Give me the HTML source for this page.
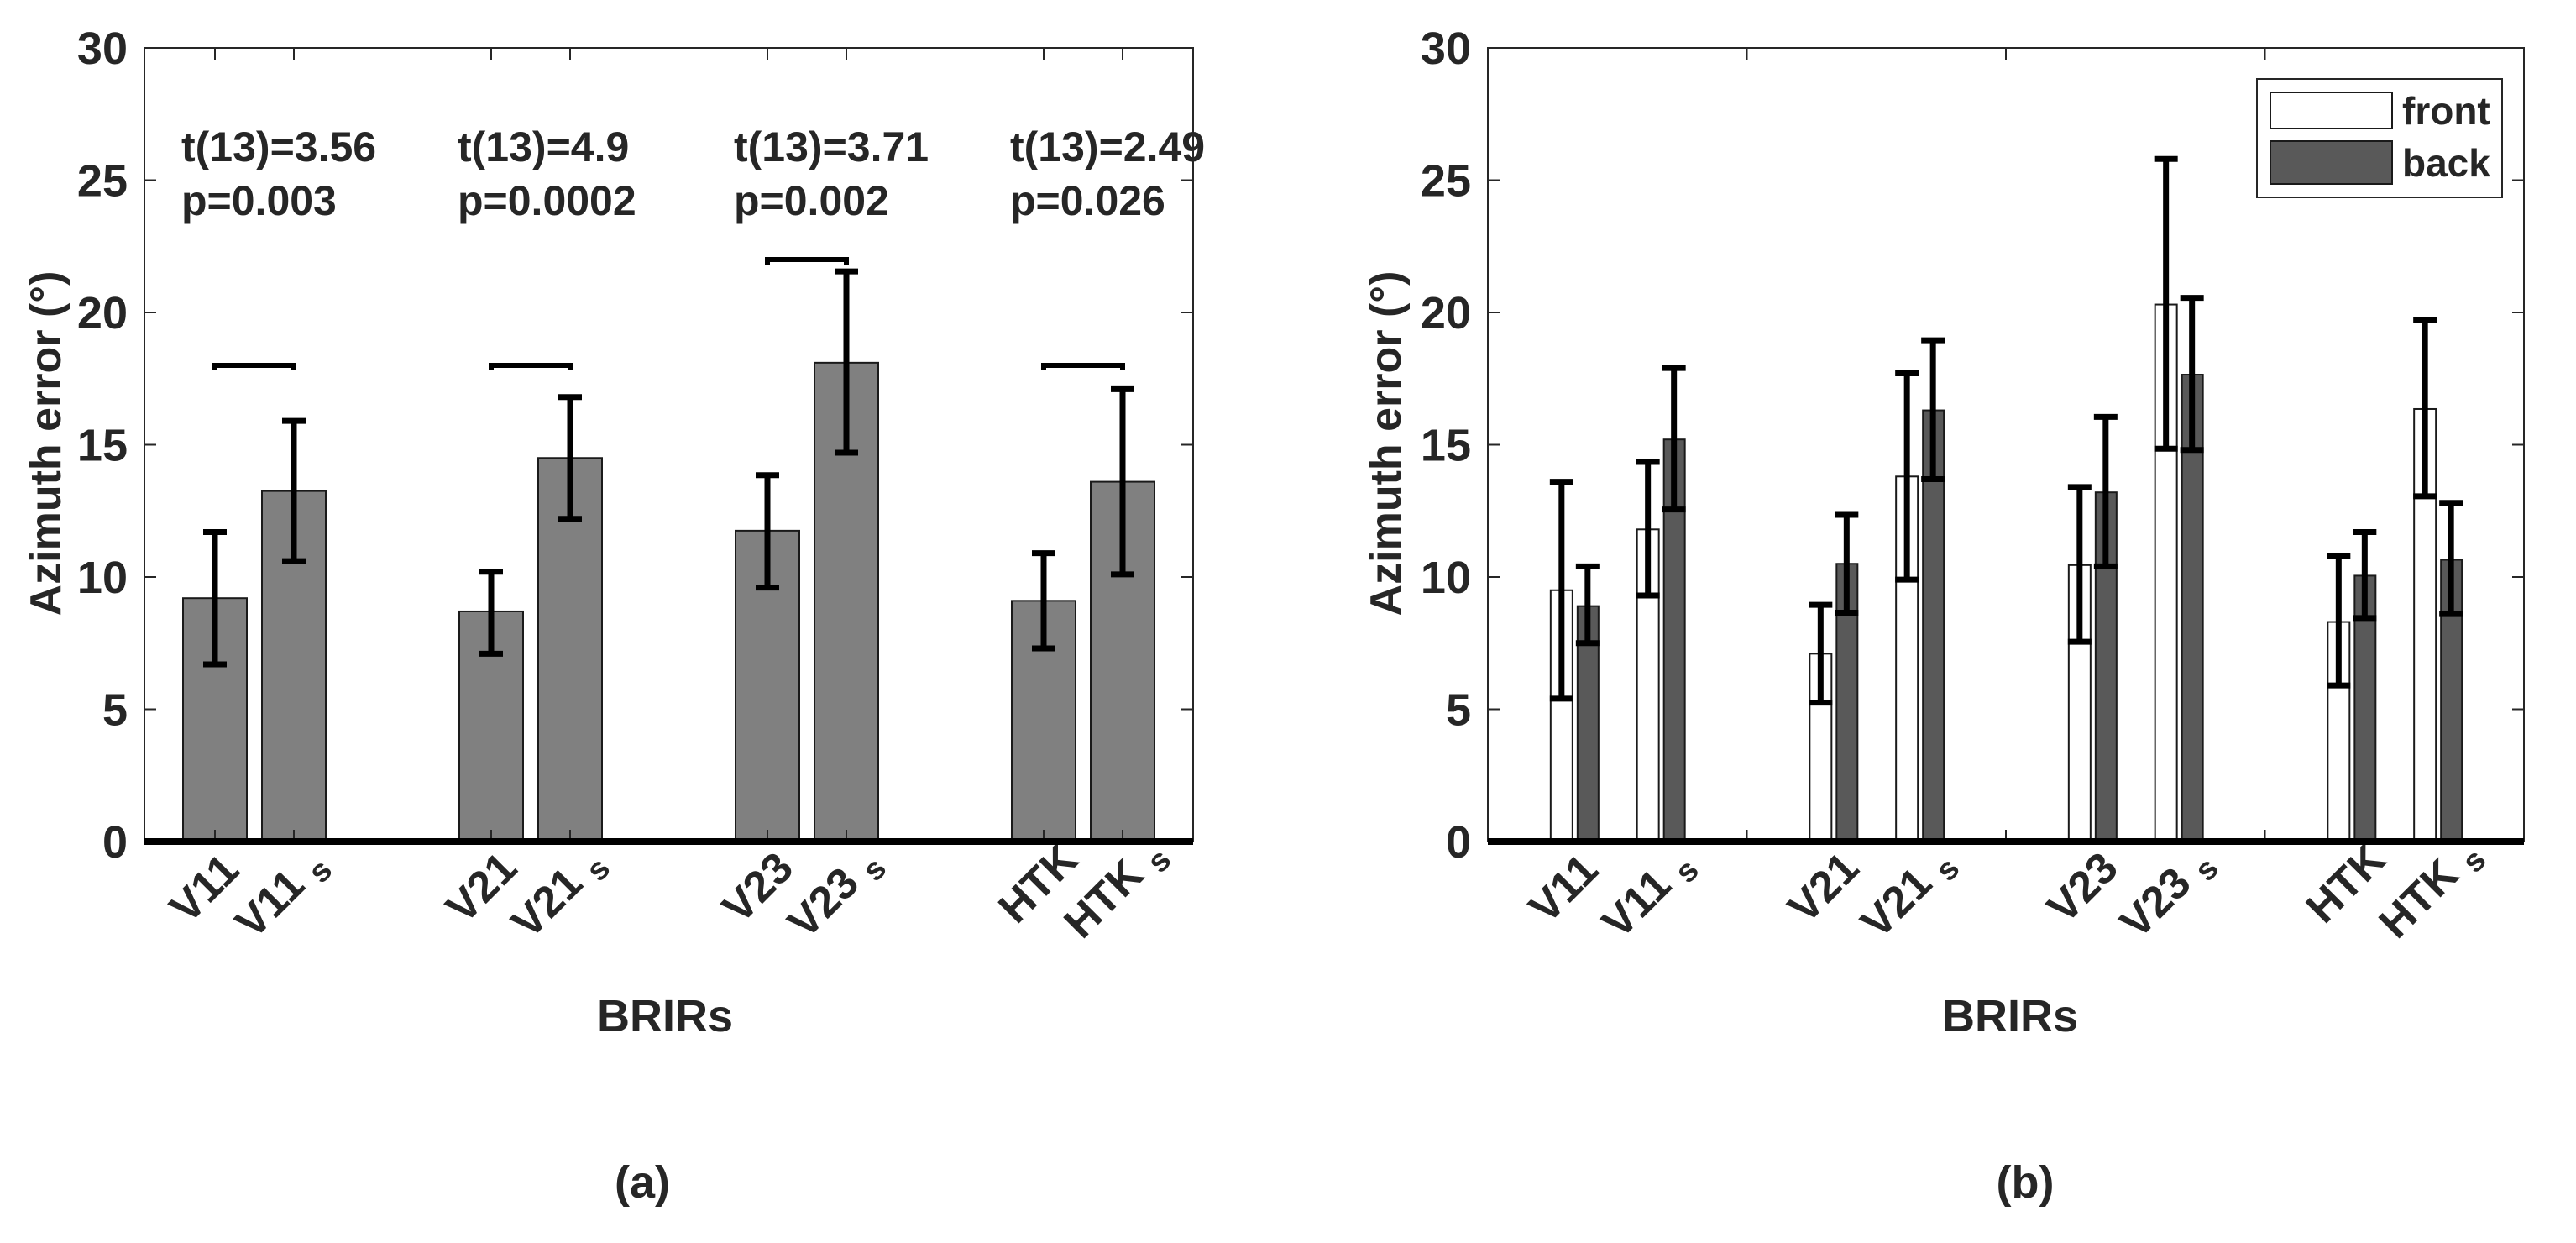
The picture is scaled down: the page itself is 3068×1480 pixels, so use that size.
<!DOCTYPE html>
<html><head><meta charset="utf-8">
<style>
html,body{margin:0;padding:0;background:#fff;}
svg{display:block;font-family:"Liberation Sans",sans-serif;font-weight:bold;}
text{fill:#262626;}
</style></head>
<body>
<svg id="fig" width="3068" height="1480" viewBox="0 0 3068 1480" xmlns="http://www.w3.org/2000/svg">
<g id="pa"></g>
<g id="pb"></g>
<text x="765" y="1426" font-size="54" text-anchor="middle">(a)</text>
<text x="2412" y="1426" font-size="54" text-anchor="middle">(b)</text>
</svg>
<script>
const yTicks = [0,5,10,15,20,25,30];
const catsA = ["V11","V11s","V21","V21s","V23","V23s","HTK","HTKs"];
const posA = [1,2,4.5,5.5,8,9,11.5,12.5];
const meanA = [9.2,13.25,8.7,14.5,11.75,18.1,9.1,13.6];
const loA = [6.7,10.6,7.1,12.2,9.6,14.7,7.3,10.1];
const hiA = [11.7,15.9,10.2,16.8,13.85,21.55,10.9,17.1];
const bracketY = [18,18,22,18];
const statT = ["t(13)=3.56","t(13)=4.9","t(13)=3.71","t(13)=2.49"];
const statP = ["p=0.003","p=0.0002","p=0.002","p=0.026"];

const catsB = ["V11","V11s","V21","V21s","V23","V23s","HTK","HTKs"];
const posB = [1,2,4,5,7,8,10,11];
const frontMean = [9.5,11.8,7.1,13.8,10.45,20.3,8.3,16.35];
const frontLo = [5.4,9.3,5.25,9.9,7.55,14.85,5.9,13.05];
const frontHi = [13.6,14.35,8.95,17.7,13.4,25.8,10.8,19.7];
const backMean = [8.9,15.2,10.5,16.3,13.2,17.65,10.05,10.65];
const backLo = [7.5,12.55,8.65,13.7,10.4,14.8,8.45,8.6];
const backHi = [10.4,17.9,12.35,18.95,16.05,20.55,11.7,12.8];

const NS="http://www.w3.org/2000/svg";
function mk(parent,tag,attrs){const e=document.createElementNS(NS,tag);for(const k in attrs)e.setAttribute(k,attrs[k]);parent.appendChild(e);return e;}
const Y0=1002, Y30=57;
function ys(v){return Y0+(Y30-Y0)*v/30;}

function axesFrame(g,L,R,xt,xsc,name){
  const box=mk(g,'rect',{x:L,y:Y30,width:R-L,height:Y0-Y30,fill:'none',stroke:'#262626','stroke-width':2});
  
  
  yTicks.forEach(v=>{
    const y=ys(v);
    mk(g,'line',{x1:L,x2:L+14,y1:y,y2:y,stroke:'#262626','stroke-width':2});
    mk(g,'line',{x1:R,x2:R-14,y1:y,y2:y,stroke:'#262626','stroke-width':2});
    const t=mk(g,'text',{x:L-20,y:y+19,'font-size':54,'text-anchor':'end'});
    t.textContent=v;
    
    
  });
  xt.forEach(p=>{
    const x=xsc(p);
    mk(g,'line',{x1:x,x2:x,y1:Y30,y2:Y30+14,stroke:'#262626','stroke-width':2});
  });
}
function zeroLine(g,L,R,name){
  const z=mk(g,'line',{x1:L,x2:R,y1:Y0,y2:Y0,stroke:'#000','stroke-width':8});
  
  
}
function bottomTicks(g,xt,xsc){
  xt.forEach(p=>{const x=xsc(p);mk(g,'line',{x1:x,x2:x,y1:Y0,y2:Y0-14,stroke:'#262626','stroke-width':2});});
}
function errBar(g,x,lo,hi,cap){
  const e=mk(g,'g',{stroke:'#000','stroke-width':7});
  
  
  mk(e,'line',{x1:x,x2:x,y1:ys(lo),y2:ys(hi)});
  mk(e,'line',{x1:x-cap,x2:x+cap,y1:ys(lo),y2:ys(lo)});
  mk(e,'line',{x1:x-cap,x2:x+cap,y1:ys(hi),y2:ys(hi)});
}
function xLabel(g,cat,x){
  const sub=cat.endsWith('s');
  const base=sub?cat.slice(0,-1):cat;
  const ax=sub?x-48:x-32, ay=sub?1120:1102;
  const t=mk(g,'text',{x:ax,y:ay,'font-size':52,transform:`rotate(-45 ${ax} ${ay})`});
  
  
  t.appendChild(document.createTextNode(base+(sub?' ':'')));
  if(sub){const s=mk(t,'tspan',{'font-size':38,dy:10});s.textContent='s';}
}
function axisTitles(g,cx,ylx,name){
  const xl=mk(g,'text',{x:cx,y:1228,'font-size':54,'text-anchor':'middle'});
  xl.textContent='BRIRs';
  
  
  const yl=mk(g,'text',{x:ylx,y:528,'font-size':52,'text-anchor':'middle',transform:`rotate(-90 ${ylx} 528)`});
  yl.textContent='Azimuth error (°)';
  
  
}

// Panel A
(function(){
  const g=document.getElementById('pa');
  const L=172,R=1421;
  const xs=p=>162+p*94;
  axesFrame(g,L,R,posA,xs,'panel-a');
  posA.forEach((p,i)=>{
    const x=xs(p);
    const b=mk(g,'rect',{x:x-38,y:ys(meanA[i]),width:76,height:Y0-ys(meanA[i]),fill:'#808080',stroke:'#1a1a1a','stroke-width':2});
    
    
    errBar(g,x,loA[i],hiA[i],14);
    xLabel(g,catsA[i],x);
  });
  bottomTicks(g,posA,xs);
  zeroLine(g,L,R,'panel-a');
  bracketY.forEach((v,k)=>{
    const x1=xs(posA[2*k]),x2=xs(posA[2*k+1]);
    const br=mk(g,'path',{d:`M${x1} ${ys(v)+6} L${x1} ${ys(v)} L${x2} ${ys(v)} L${x2} ${ys(v)+6}`,fill:'none',stroke:'#000','stroke-width':6});
    
    
    const tx=xs(posA[2*k])-40;
    const t1=mk(g,'text',{x:tx,y:192,'font-size':50});
    t1.textContent=statT[k];
    
    
    const t2=mk(g,'text',{x:tx,y:256,'font-size':50});
    t2.textContent=statP[k];
    
    
  });
  axisTitles(g,792,72,'panel-a');
})();

// Panel B
(function(){
  const g=document.getElementById('pb');
  const L=1772,R=3006;
  const xs=p=>L+p*(R-L)/12;
  axesFrame(g,L,R,[3,6,9],xs,'panel-b');
  posB.forEach((p,i)=>{
    const c=xs(p), xf=c-15, xb=c+16;
    const f=mk(g,'rect',{x:xf-13,y:ys(frontMean[i]),width:26,height:Y0-ys(frontMean[i]),fill:'#fff',stroke:'#1a1a1a','stroke-width':2});
    
    
    const b=mk(g,'rect',{x:xb-12,y:ys(backMean[i]),width:25,height:Y0-ys(backMean[i]),fill:'#595959',stroke:'#1a1a1a','stroke-width':2});
    
    
    errBar(g,xf,frontLo[i],frontHi[i],14);
    errBar(g,xb,backLo[i],backHi[i],14);
    xLabel(g,catsB[i],c);
  });
  bottomTicks(g,[3,6,9],xs);
  zeroLine(g,L,R,'panel-b');
  const lg=mk(g,'g',{});
  
  
  mk(lg,'rect',{x:2688,y:94,width:292,height:141,fill:'#fff',stroke:'#262626','stroke-width':2});
  const e1=mk(lg,'g',{});
  
  
  mk(e1,'rect',{x:2704,y:110,width:145,height:43,fill:'#fff',stroke:'#1a1a1a','stroke-width':2});
  const t1=mk(e1,'text',{x:2861,y:148,'font-size':46});t1.textContent='front';
  const e2=mk(lg,'g',{});
  
  
  mk(e2,'rect',{x:2704,y:168,width:145,height:51,fill:'#595959',stroke:'#1a1a1a','stroke-width':2});
  const t2=mk(e2,'text',{x:2861,y:210,'font-size':46});t2.textContent='back';
  axisTitles(g,2394,1668,'panel-b');
})();
</script>
</body></html>
